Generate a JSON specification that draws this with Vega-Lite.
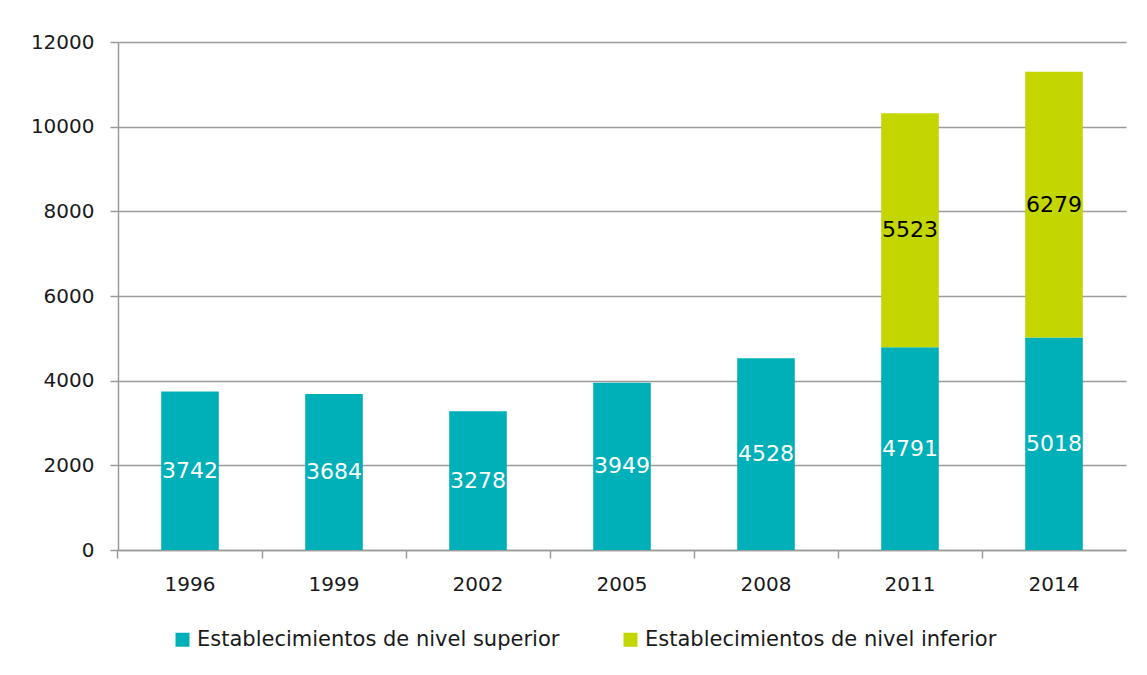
{
  "$schema": "https://vega.github.io/schema/vega-lite/v6.json",
  "width": 1008,
  "height": 508,
  "autosize": {"type": "none"},
  "padding": {"left": 118, "top": 42, "right": 21, "bottom": 125},
  "background": "white",
  "data": {
    "values": [
      {"year": "1996", "tipo": "Establecimientos de nivel superior", "n": 3742},
      {"year": "1999", "tipo": "Establecimientos de nivel superior", "n": 3684},
      {"year": "2002", "tipo": "Establecimientos de nivel superior", "n": 3278},
      {"year": "2005", "tipo": "Establecimientos de nivel superior", "n": 3949},
      {"year": "2008", "tipo": "Establecimientos de nivel superior", "n": 4528},
      {"year": "2011", "tipo": "Establecimientos de nivel superior", "n": 4791},
      {"year": "2014", "tipo": "Establecimientos de nivel superior", "n": 5018},
      {"year": "2011", "tipo": "Establecimientos de nivel inferior", "n": 5523},
      {"year": "2014", "tipo": "Establecimientos de nivel inferior", "n": 6279}
    ]
  },
  "encoding": {
    "x": {
      "field": "year", "type": "ordinal",
      "scale": {"paddingInner": 0.6, "paddingOuter": 0.3},
      "axis": {
        "title": null, "labelAngle": 0, "bandPosition": -0.75, "labelOffset": 0,
        "domainColor": "#9a9a9a", "domainWidth": 1.5, "tickColor": "#9a9a9a", "tickWidth": 1.5,
        "tickSize": 8, "labelPadding": 16, "labelFont": "DejaVu Sans", "labelFontSize": 20,
        "labelColor": "#1a1a1a", "grid": false
      }
    },
    "y": {
      "field": "n", "type": "quantitative", "stack": "zero",
      "scale": {"domain": [0, 12000]},
      "axis": {
        "title": null, "values": [0, 2000, 4000, 6000, 8000, 10000, 12000], "format": "d",
        "domainColor": "#9a9a9a", "domainWidth": 1.5, "tickColor": "#9a9a9a", "tickWidth": 1.5,
        "tickSize": 8, "labelPadding": 16, "labelFont": "DejaVu Sans", "labelFontSize": 20,
        "labelColor": "#1a1a1a", "grid": true, "gridColor": "#9a9a9a", "gridWidth": 1.5
      }
    },
    "order": {"field": "tipo", "sort": "descending"}
  },
  "layer": [
    {
      "mark": {"type": "bar"},
      "encoding": {
        "color": {
          "field": "tipo", "type": "nominal",
          "scale": {
            "domain": ["Establecimientos de nivel superior", "Establecimientos de nivel inferior"],
            "range": ["#00B0B9", "#C4D600"]
          },
          "legend": {
            "title": null, "orient": "none", "direction": "horizontal",
            "legendX": 54, "legendY": 587,
            "symbolType": "square", "symbolSize": 196, "symbolStrokeWidth": 0,
            "labelFont": "DejaVu Sans", "labelFontSize": 21, "labelColor": "#1a1a1a",
            "columnPadding": 60, "labelLimit": 500
          }
        }
      }
    },
    {
      "mark": {"type": "text", "font": "DejaVu Sans", "fontSize": 22, "baseline": "middle"},
      "encoding": {
        "y": {"field": "n", "type": "quantitative", "stack": "zero", "bandPosition": 0.5},
        "text": {"field": "n", "type": "quantitative", "format": "d"},
        "color": {
          "condition": {"test": "datum.tipo == 'Establecimientos de nivel inferior'", "value": "#000000"},
          "value": "#ffffff"
        }
      }
    }
  ],
  "config": {"view": {"stroke": null}}
}
